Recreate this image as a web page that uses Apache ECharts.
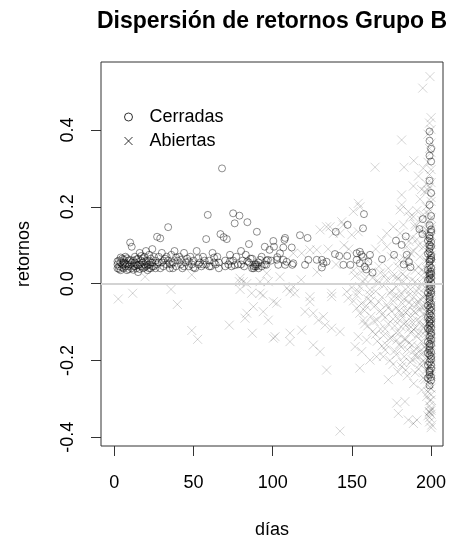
<!DOCTYPE html>
<html>
<head>
<meta charset="utf-8">
<script src="https://cdn.jsdelivr.net/npm/echarts@6/dist/echarts.min.js"></script>
<style>
  html, body { margin: 0; padding: 0; background: #fff; }
  #chart { width: 457px; height: 538px; }
</style>
</head>
<body>
<div id="chart"></div>
<script>
// Retornos por día: operaciones cerradas (círculos) y abiertas (cruces)
const ticksDias = [0, 50, 100, 150, 200];
const ticksRet = [-0.4, -0.2, 0.0, 0.2, 0.4];

const cerradas = [
  [2,0.05],[2,0.04],[3,0.06],[3,0.045],[4,0.055],[4,0.035],[5,0.05],[5,0.065],[6,0.04],[6,0.055],
  [7,0.045],[7,0.07],[8,0.05],[8,0.035],[9,0.06],[9,0.045],[10,0.107],[10,0.05],[11,0.096],[11,0.04],
  [12,0.06],[12,0.045],[13,0.055],[13,0.07],[14,0.04],[14,0.05],[15,0.065],[15,0.03],[16,0.05],[16,0.08],
  [17,0.045],[17,0.06],[18,0.055],[18,0.04],[19,0.07],[19,0.05],[20,0.085],[20,0.045],[21,0.06],[21,0.035],
  [22,0.05],[22,0.075],[23,0.04],[23,0.065],[24,0.055],[24,0.09],[25,0.045],[26,0.06],[27,0.122],[27,0.05],
  [28,0.07],[29,0.118],[29,0.04],[30,0.055],[30,0.08],[31,0.045],[32,0.065],[33,0.05],[34,0.147],[34,0.06],
  [35,0.04],[36,0.075],[36,0.05],[37,0.055],[38,0.085],[39,0.045],[40,0.06],[41,0.07],[42,0.05],[43,0.04],
  [44,0.08],[45,0.055],[46,0.065],[47,0.045],[48,0.07],[49,0.05],[50,0.06],[51,0.04],[52,0.085],[53,0.05],
  [54,0.055],[55,0.045],[56,0.07],[57,0.06],[58,0.116],[58,0.05],[59,0.179],[60,0.06],[61,0.045],[62,0.08],
  [63,0.055],[64,0.05],[65,0.07],[66,0.04],[67,0.129],[68,0.3],[69,0.121],[70,0.06],[71,0.116],[72,0.05],
  [73,0.075],[74,0.045],[75,0.183],[75,0.06],[76,0.157],[77,0.07],[78,0.05],[79,0.177],[80,0.085],[81,0.06],
  [82,0.045],[83,0.075],[84,0.16],[85,0.103],[85,0.055],[86,0.065],[87,0.04],[88,0.045],[88,0.04],[89,0.05],
  [89,0.045],[90,0.135],[90,0.045],[90,0.05],[91,0.055],[91,0.04],[92,0.062],[93,0.07],[95,0.096],[95,0.05],
  [96,0.049],[97,0.062],[98,0.088],[99,0.06],
  [2,0.058],[3,0.038],[4,0.068],[5,0.042],[6,0.062],[7,0.052],[8,0.066],[9,0.038],[10,0.062],[11,0.055],
  [12,0.036],[13,0.046],[14,0.063],[15,0.048],[16,0.038],[17,0.072],[18,0.066],[19,0.042],[20,0.058],[21,0.048],
  [22,0.04],[23,0.055],[24,0.045],[25,0.07],[26,0.04],[28,0.055],[31,0.06],[33,0.07],[35,0.052],[37,0.04],
  [39,0.068],[42,0.062],[44,0.045],[47,0.058],[50,0.042],[53,0.066],[56,0.05],[60,0.045],[63,0.068],[66,0.055],
  [70,0.045],[73,0.058],[76,0.048],[80,0.05],[84,0.058],[87,0.065],[93,0.045],[96,0.06],
  [100.4,0.111],[100.8,0.096],[102.5,0.062],[102.9,0.069],[103.5,0.049],[104.6,0.079],[106.7,0.094],[106.7,0.062],
  [107.4,0.114],[107.8,0.119],[107.8,0.049],[108.8,0.057],[112,0.094],[112.4,0.049],[113,0.053],[117.2,0.126],
  [120.4,0.049],[122,0.119],[122.5,0.062],[127.8,0.062],[131,0.062],[132,0.053],[131,0.042],[134,0.057],
  [139.3,0.077],[139.8,0.135],[142,0.072],[144.6,0.049],[147,0.072],[147.3,0.153],[149,0.049],[153,0.079],
  [153,0.062],[155,0.083],[155,0.053],[156,0.075],[157,0.07],[157,0.144],[157.6,0.181],[158,0.044],
  [159,0.037],[160.4,0.057],[161.4,0.075],[163,0.029],[169,0.064],[176.6,0.075],[177.8,0.112],[181.4,0.101],
  [182.7,0.05],[184,0.123],[184.6,0.075],[186,0.056],[187,0.043],[192.6,0.142],[194.5,0.129],[194.7,0.168],
  [199,0.396],[199,0.372],[200,0.351],[199,0.333],[200,0.318],[199,0.268],[200,0.236],[199,0.205],
  [200,0.176],[199,0.152],[200,0.134],[199,0.118],[200,0.097],[199,0.083],[200,0.062],[199,0.048],
  [200,0.031],[199,0.012],[200,0.004],[199,-0.015],[200,-0.027],[199,-0.046],[200,-0.061],[199,-0.079],
  [200,-0.094],[199,-0.108],[200,-0.127],[199,-0.139],[200,-0.158],[199,-0.172],[200,-0.19],[199,-0.203],
  [200,-0.221],[199,-0.238],[200,-0.252],[199,-0.265],
  [200,0.141],[199,0.125],[200,0.108],[199,0.091],[200,0.073],[199,0.057],[200,0.041],[199,0.022],
  [200,0.015],[199,-0.004],[200,-0.019],[199,-0.034],[200,-0.052],[199,-0.066],[200,-0.083],[199,-0.1],
  [200,-0.115],[199,-0.121],[200,-0.146],[199,-0.163],[200,-0.178],[199,-0.185],[200,-0.211],[199,-0.226],
  [200,-0.243],
  [198,0.112],[199,0.101],[198,0.078],[200,0.067],[198,0.036],[199,0.027],[198,0.009],[200,-0.008],
  [198,-0.024],[199,-0.039],[198,-0.057],[200,-0.071],[198,-0.088],[199,-0.094],[198,-0.117],[200,-0.134],
  [198,-0.151],[199,-0.157],[198,-0.181],[200,-0.197],[198,-0.212],[199,-0.231],[198,-0.246],[200,-0.104],
  [199,0.063],[200,0.025]
];

const abiertas = [
  [2.5,-0.04],[11.6,-0.025],[19.4,0.018],[35.8,-0.015],[39.8,-0.054],[48.9,0.023],[48.9,-0.122],[52.6,-0.145],
  [72.6,-0.108],[79.4,-0.015],[79.4,0.014],[81.4,0.005],[83.6,0.0],[79,0.005],[86.7,-0.025],[94,-0.03],
  [87.8,-0.06],[83.6,-0.077],[82.5,-0.09],[94,-0.073],[97.2,-0.095],[100.4,-0.047],[102.5,-0.051],[87.1,-0.129],
  [100.4,-0.142],[92,0.005],[97.2,0.005],[92,-0.025],
  [109,-0.012],[110.9,-0.021],[114,-0.025],[101.5,-0.138],[110.9,-0.129],[110.9,-0.151],[123.5,-0.047],
  [125.6,-0.077],[128.8,-0.095],[132,-0.086],[133,-0.108],[120.4,-0.073],[118.3,-0.121],[125.6,-0.16],
  [129.9,-0.177],[137.2,-0.034],[137.2,-0.116],[142.5,-0.125],[134,-0.225],[142.5,-0.384],[147.7,-0.038],
  [153,-0.064],[155,-0.077],[157.2,-0.095],[154,-0.138],[152,-0.164],[156.2,-0.177],[155,-0.22],
  [159.3,-0.147],[161.4,-0.199],[165.6,-0.19],[169.8,-0.19],[173,-0.25],[171,-0.173],[178.3,-0.147],
  [181.4,-0.216],[178.3,-0.311],[183.5,-0.307],[179.3,-0.338],[185.6,-0.355],[188.8,-0.364],[191,-0.355],
  [194,-0.277],[198.9,-0.333],[199,-0.335],[200,-0.33],[200.4,-0.368],[197.2,-0.294],
  [199.3,0.539],[194.7,0.509],[181.4,0.374],[164.6,0.303],[182.9,0.303],[188.8,0.254],[181.4,0.231],
  [180.4,0.192],[186.7,0.174],[155.1,0.2],[150.9,0.188],[144.6,0.153],[138.3,0.131],[136.2,0.148],
  [129.9,0.14],[172,0.131],[176.1,0.148],[180.4,0.131],[154,0.209],[134,0.148],[143.6,0.161],[142.5,0.131],
  [149.9,0.127],[154,0.135],[181.4,0.205],[185.6,0.188],[188.8,0.174],[182.5,0.153],[189.8,0.148],
  [172,0.096],[168.8,0.114],[184.6,0.096],[123.5,0.088],[127.8,0.088],[113,0.079],[118.3,0.079],
  [96.2,0.027],[104.6,0.018],[113,-0.008],[123.5,-0.034],[137.2,-0.025],[146.7,-0.021],[155,-0.008],
  [161.4,-0.016],[166.7,0.001],[172,0.01],[178.3,0.018],[182.5,0.005],
  [150,-0.01],[151,-0.045],[152,0.02],[153,-0.03],[156,-0.052],[158,0.012],[158,-0.07],[160,-0.04],
  [160,-0.11],[162,-0.085],[162,0.03],[163,-0.125],[164,-0.06],[165,-0.02],[166,-0.095],[166,-0.15],
  [167,0.045],[168,-0.07],[168,-0.118],[169,-0.035],[170,-0.005],[170,-0.135],[171,-0.088],[172,-0.055],
  [172,-0.16],[173,0.04],[173,-0.105],[174,-0.025],[174,-0.2],[175,-0.072],[175,-0.14],[176,0.02],
  [176,-0.045],[177,-0.11],[177,-0.175],[178,-0.008],[178,-0.063],[179,-0.092],[179,-0.23],[180,0.06],
  [180,-0.035],[180,-0.128],[181,-0.078],[181,-0.165],[182,0.025],[182,-0.052],[183,-0.104],[183,-0.19],
  [184,-0.015],[184,-0.145],[185,0.045],[185,-0.07],[185,-0.24],[186,-0.03],[186,-0.118],[187,0.08],
  [187,-0.088],[187,-0.205],[188,0.01],[188,-0.055],[188,-0.16],[189,-0.12],[189,-0.26],[190,0.035],
  [190,-0.075],[190,-0.185],[191,0.115],[191,-0.02],[191,-0.138],[192,-0.048],[192,-0.222],[193,0.07],
  [193,-0.098],[193,-0.175],[194,0.0],[194,-0.06],[194,-0.15],[195,0.095],[195,-0.035],[195,-0.2],
  [196,0.03],[196,-0.11],[196,-0.25],[197,-0.075],[197,0.14],[197,-0.17],
  [151,0.035],[154,-0.02],[157,0.005],[159,-0.058],[161,-0.028],[163,0.015],[164,-0.098],[165,-0.132],
  [167,-0.048],[169,-0.08],[169,-0.162],[171,0.022],[171,-0.118],[173,-0.063],[174,-0.142],[175,-0.018],
  [176,-0.092],[176,-0.21],[177,-0.032],[178,-0.128],[178,-0.185],[179,0.012],[180,-0.07],[180,-0.158],
  [181,-0.025],[181,-0.112],[182,-0.088],[182,-0.205],[183,-0.04],[183,-0.145],[184,0.018],[184,-0.075],
  [184,-0.225],[185,-0.105],[185,-0.172],[186,-0.05],[186,-0.155],[187,-0.015],[187,-0.128],[188,-0.1],
  [188,-0.198],[189,-0.035],[189,-0.072],[189,-0.175],[190,0.005],[190,-0.115],[190,-0.232],[191,-0.055],
  [191,-0.095],[191,-0.192],[192,0.045],[192,-0.012],[192,-0.13],[192,-0.165],[193,-0.04],[193,-0.068],
  [193,-0.21],[194,0.035],[194,-0.11],[194,-0.185],[195,0.015],[195,-0.08],[195,-0.13],[195,-0.245],
  [196,-0.01],[196,-0.06],[196,-0.165],[196,-0.205],[197,0.06],[197,-0.03],[197,-0.12],[197,-0.225],
  [166,0.008],[162,-0.045],[158,-0.105],[156,0.03],[168,0.028],[186,0.11],[189,0.085],[193,0.14],
  [195,0.18],[190,0.155],[197,0.26],[194,0.245],
  [189,0.32],[192,0.28],[195,0.3],[196,0.24],[193,0.22],[197,0.2],[191,0.19],[194,0.165],[196,0.13],
  [192,0.1],[188,0.12],[186,0.07],[183,0.065],[179,0.045],[175,0.07],[165,0.09],[160,0.06],[148,0.09],
  [145,0.1],[140,0.05],[135,0.09],[128,0.03],[118,0.01],
  [200,0.432],[199,0.418],[200,0.401],[198,0.389],[200,0.366],[199,0.352],[200,0.341],[198,0.316],
  [200,0.297],[199,0.284],[200,0.263],[199,0.251],[198,0.243],[200,0.224],[200,0.214],[199,0.193],
  [198,0.183],[200,0.171],[199,0.166],[200,0.148],[198,0.136],[200,0.126],[199,0.113],[200,0.103],
  [198,0.091],[199,0.086],[200,0.074],[200,0.066],[198,0.055],[199,0.047],[200,0.038],[200,0.026],
  [199,0.019],[198,0.008],[200,0.003],[199,-0.009],[200,-0.014],[198,-0.025],[200,-0.031],[199,-0.041],
  [200,-0.047],[198,-0.058],[199,-0.063],[200,-0.074],[200,-0.08],[198,-0.086],[199,-0.099],[200,-0.104],
  [199,-0.116],[200,-0.121],[198,-0.127],[200,-0.141],[199,-0.146],[200,-0.152],[198,-0.166],[200,-0.172],
  [199,-0.178],[200,-0.193],[199,-0.198],[200,-0.21],[198,-0.216],[200,-0.229],[199,-0.234],[200,-0.242],
  [199,-0.261],[200,-0.272],[198,-0.282],[200,-0.303],[199,-0.318],[200,-0.34],[199,-0.349],[200,-0.375],
  [199,0.158],[200,0.141],[198,0.121],[199,0.109],[200,0.088],[199,0.071],[200,0.052],[198,0.036],
  [199,0.028],[200,0.012],[199,0.002],[200,-0.021],[198,-0.036],[199,-0.052],[200,-0.058],[199,-0.069],
  [200,-0.088],[198,-0.104],[199,-0.108],[200,-0.131],[199,-0.137],[200,-0.16],[198,-0.176],[199,-0.186],
  [200,-0.202],[199,-0.219],[200,-0.236],[198,-0.248],[199,-0.27],[200,-0.289],[199,-0.305],[200,-0.325],
  [198,-0.344],[199,-0.36]
];

const FONT = 'Liberation Sans, Arial, Helvetica, sans-serif';
const crossPath = 'path://M0,0L10,10M10,0L0,10';

const chart = echarts.init(document.getElementById('chart'), null, { renderer: 'canvas' });

chart.setOption({
  animation: false,
  backgroundColor: '#fff',
  title: {
    text: 'Dispersión de retornos Grupo B',
    left: 267,
    textAlign: 'center',
    top: 5,
    textStyle: { fontFamily: FONT, fontSize: 23, fontWeight: 'bold', color: '#000' }
  },
  legend: {
    orient: 'vertical',
    left: 119,
    top: 103,
    itemWidth: 8,
    itemHeight: 8,
    itemGap: 6,
    selectedMode: false,
    textStyle: { fontFamily: FONT, fontSize: 18, color: '#000', padding: [0, 0, 0, 12] },
    data: [
      { name: 'Cerradas', icon: 'circle',
        itemStyle: { color: 'transparent', borderColor: '#000', borderWidth: 1 } },
      { name: 'Abiertas', icon: crossPath,
        itemStyle: { color: 'transparent', borderColor: '#000', borderWidth: 1 } }
    ]
  },
  grid: {
    left: 101, right: 14, top: 62, bottom: 92,
    outerBoundsMode: 'none',
    containLabel: false,
    show: true, borderColor: '#333', borderWidth: 1, backgroundColor: 'transparent'
  },
  xAxis: {
    type: 'value',
    min: -8.4, max: 207.5,
    name: 'días',
    nameLocation: 'middle',
    nameGap: 75,
    nameTextStyle: { fontFamily: FONT, fontSize: 18, color: '#000' },
    axisLine: { show: false, onZero: false },
    splitLine: { show: false },
    axisTick: { show: true, inside: false, customValues: ticksDias, length: 10, lineStyle: { color: '#333' } },
    axisLabel: { customValues: ticksDias, margin: 28, fontFamily: FONT, fontSize: 18, color: '#000' }
  },
  yAxis: {
    type: 'value',
    min: -0.4227, max: 0.577,
    name: 'retornos',
    nameLocation: 'middle',
    nameGap: 68,
    nameRotate: 90,
    nameTextStyle: { fontFamily: FONT, fontSize: 18, color: '#000' },
    axisLine: { show: false, onZero: false },
    splitLine: { show: false },
    axisTick: { show: true, inside: false, customValues: ticksRet, length: 10, lineStyle: { color: '#333' } },
    axisLabel: {
      customValues: ticksRet, rotate: 90, margin: 24,
      fontFamily: FONT, fontSize: 18, color: '#000',
      formatter: v => v.toFixed(1)
    }
  },
  series: [
    {
      name: 'Cerradas',
      type: 'scatter',
      data: cerradas,
      symbol: 'circle',
      symbolSize: 7,
      itemStyle: { color: 'transparent', borderColor: 'rgba(0,0,0,0.55)', borderWidth: 1 },
      emphasis: { disabled: true },
      silent: true,
      markLine: {
        silent: true,
        symbol: 'none',
        label: { show: false },
        lineStyle: { color: '#d3d3d3', width: 2, type: 'solid' },
        data: [{ yAxis: 0 }]
      },
      z: 2
    },
    {
      name: 'Abiertas',
      type: 'scatter',
      data: abiertas,
      symbol: crossPath,
      symbolSize: 9,
      itemStyle: { color: 'transparent', borderColor: 'rgba(0,0,0,0.21)', borderWidth: 1 },
      emphasis: { disabled: true },
      silent: true,
      z: 3
    }
  ]
});
</script>
</body>
</html>
